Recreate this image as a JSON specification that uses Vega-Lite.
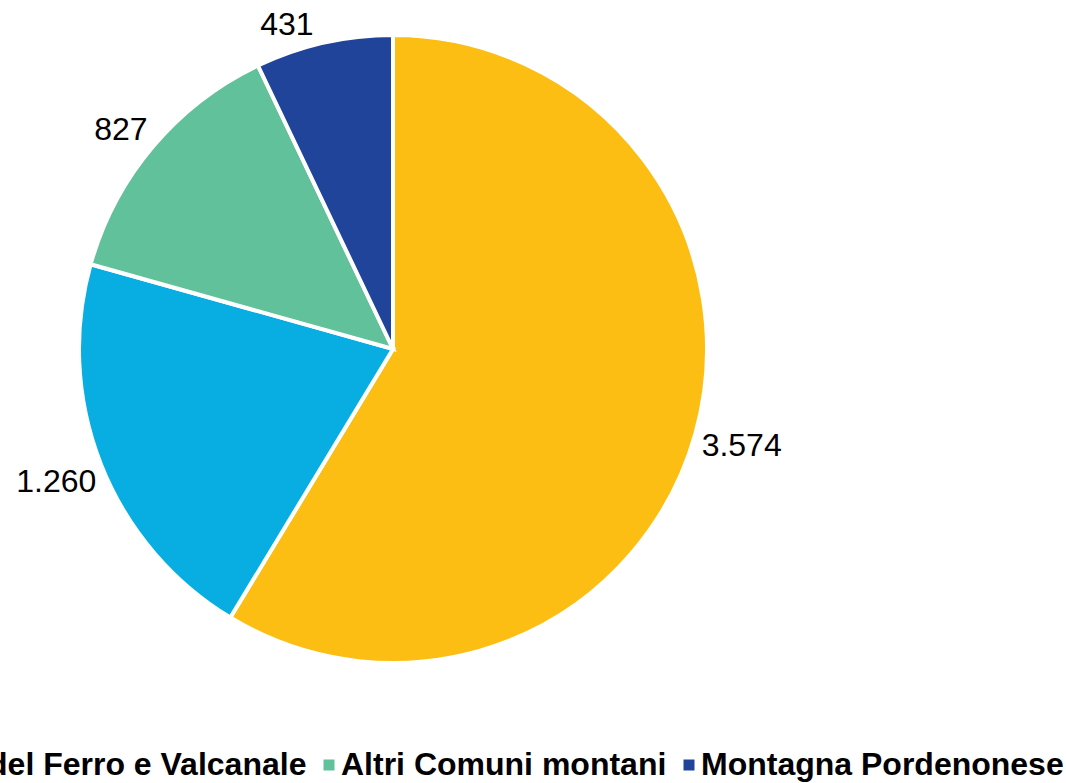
{
  "$schema": "https://vega.github.io/schema/vega-lite/v6.json",
  "width": 786,
  "height": 698,
  "autosize": {"type": "none"},
  "padding": {"left": 0, "top": 0, "right": 280, "bottom": 85},
  "background": "white",
  "config": {
    "view": {"stroke": null},
    "locale": {"number": {"decimal": ",", "thousands": ".", "grouping": [3], "currency": ["€", ""]}}
  },
  "data": {
    "values": [
      {"area": "Carnia", "value": 3574, "idx": 1},
      {"area": "Canal del Ferro e Valcanale", "value": 1260, "idx": 2},
      {"area": "Altri Comuni montani", "value": 827, "idx": 3},
      {"area": "Montagna Pordenonese", "value": 431, "idx": 4}
    ]
  },
  "encoding": {
    "theta": {"field": "value", "type": "quantitative", "stack": true},
    "order": {"field": "idx", "type": "quantitative"}
  },
  "layer": [
    {
      "mark": {"type": "arc", "outerRadius": 314, "stroke": "white", "strokeWidth": 4},
      "encoding": {
        "color": {
          "field": "area",
          "type": "nominal",
          "scale": {
            "domain": ["Carnia", "Canal del Ferro e Valcanale", "Altri Comuni montani", "Montagna Pordenonese"],
            "range": ["#FCBE12", "#08ADE2", "#61C19A", "#1F449A"]
          },
          "legend": {
            "title": null,
            "orient": "none",
            "direction": "horizontal",
            "legendX": -270,
            "legendY": 749,
            "symbolType": "square",
            "symbolSize": 121,
            "symbolStrokeWidth": 0,
            "labelFont": "Liberation Sans",
            "labelFontWeight": "bold",
            "labelFontSize": 32,
            "labelColor": "black",
            "labelOffset": -4,
            "labelLimit": 2000,
            "columnPadding": 6
          }
        }
      }
    },
    {
      "mark": {"type": "text", "radius": 362, "fontSize": 32, "font": "Liberation Sans", "color": "black"},
      "encoding": {
        "text": {"condition": {"test": "datum.idx > 2", "value": ""}, "field": "value", "type": "quantitative", "format": ",.0f"}
      }
    },
    {
      "mark": {"type": "text", "radius": 340, "dx": -12, "fontSize": 32, "font": "Liberation Sans", "color": "black"},
      "encoding": {
        "text": {"condition": {"test": "datum.idx != 3", "value": ""}, "field": "value", "type": "quantitative", "format": ",.0f"}
      }
    },
    {
      "mark": {"type": "text", "radius": 332, "dx": -33, "fontSize": 32, "font": "Liberation Sans", "color": "black"},
      "encoding": {
        "text": {"condition": {"test": "datum.idx != 4", "value": ""}, "field": "value", "type": "quantitative", "format": ",.0f"}
      }
    }
  ]
}
